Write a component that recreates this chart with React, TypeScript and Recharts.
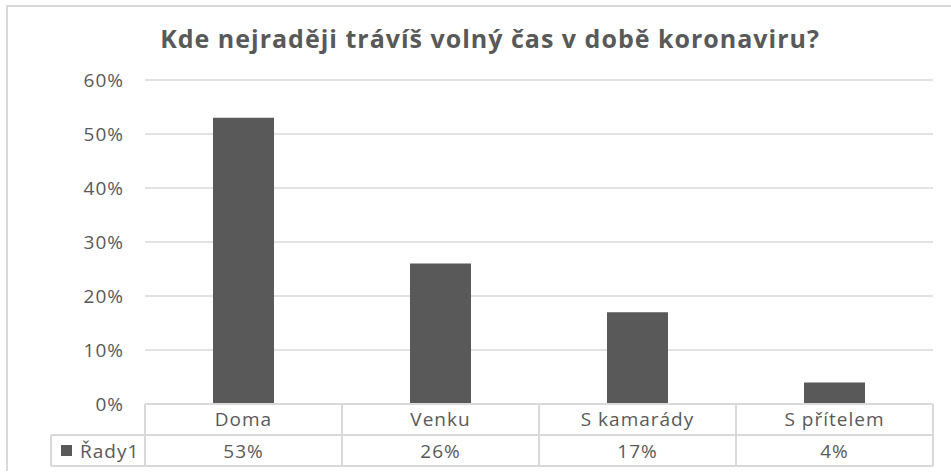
import React from 'react';
import { BarChart, Bar, XAxis, YAxis, CartesianGrid } from 'recharts';

const categories = ['Doma', 'Venku', 'S kamarády', 'S přítelem'];
const values = [53, 26, 17, 4];
const valueLabels = ['53%', '26%', '17%', '4%'];
const yTicks = [0, 10, 20, 30, 40, 50, 60];
const seriesName = 'Řady1';
const title = 'Kde nejraději trávíš volný čas v době koronaviru?';

const W = 951;
const H = 474;
const PLOT_LEFT = 145;
const PLOT_RIGHT = 18;
const CELL_W = (W - PLOT_LEFT - PLOT_RIGHT) / categories.length;
const ROW_H = 31;
const LEGEND_W = 94;

const TEXT = '#595959';
const LINE = '#d9d9d9';
const FONT = '"Open Sans", sans-serif';
const FS = 19;
const LS = 1;

const data = categories.map((name, i) => ({ name, value: values[i], label: valueLabels[i] }));

// table cell under each category, legend cell drawn with the first one
const TableTick = (props: any) => {
  const { x, y, payload, index } = props;
  const left = x - CELL_W / 2;
  const right = x + CELL_W / 2;
  return (
    <g>
      <line x1={left} y1={y} x2={right} y2={y} stroke={LINE} strokeWidth={2} />
      <line x1={left} y1={y + ROW_H} x2={right} y2={y + ROW_H} stroke={LINE} strokeWidth={2} />
      <line x1={left} y1={y + ROW_H * 2} x2={right} y2={y + ROW_H * 2} stroke={LINE} strokeWidth={2} />
      <line x1={left} y1={y} x2={left} y2={y + ROW_H * 2} stroke={LINE} strokeWidth={2} />
      <line x1={right} y1={y} x2={right} y2={y + ROW_H * 2} stroke={LINE} strokeWidth={2} />
      <text x={x} y={y + 22} textAnchor="middle" fill={TEXT} fontSize={FS} letterSpacing={LS} fontFamily={FONT}>
        {payload.value}
      </text>
      <text x={x} y={y + ROW_H + 23} textAnchor="middle" fill={TEXT} fontSize={FS} letterSpacing={LS} fontFamily={FONT}>
        {data[index].label}
      </text>
      {index === 0 && (
        <g>
          <line x1={left - LEGEND_W} y1={y + ROW_H} x2={left} y2={y + ROW_H} stroke={LINE} strokeWidth={2} />
          <line x1={left - LEGEND_W} y1={y + ROW_H * 2} x2={left} y2={y + ROW_H * 2} stroke={LINE} strokeWidth={2} />
          <line x1={left - LEGEND_W} y1={y + ROW_H} x2={left - LEGEND_W} y2={y + ROW_H * 2} stroke={LINE} strokeWidth={2} />
          <rect x={left - LEGEND_W + 10} y={y + ROW_H + 10} width={11} height={11} fill="#595959" />
          <text x={left - LEGEND_W + 29} y={y + ROW_H + 23} fill={TEXT} fontSize={FS} letterSpacing={LS} fontFamily={FONT}>
            {seriesName}
          </text>
        </g>
      )}
    </g>
  );
};

export default function App() {
  return (
    <div style={{ position: 'absolute', left: 0, top: 0, width: W, height: H, background: '#fff' }}>
      <div
        style={{
          position: 'absolute',
          left: 6,
          top: 5,
          width: W - 6,
          height: 466,
          borderTop: `2px solid ${LINE}`,
          borderLeft: `2px solid ${LINE}`,
          boxSizing: 'border-box',
        }}
      />
      <div
        style={{
          position: 'absolute',
          left: 0,
          top: 21,
          width: 980,
          textAlign: 'center',
          fontFamily: FONT,
          fontWeight: 700,
          fontSize: 25,
          letterSpacing: 1,
          color: TEXT,
        }}
      >
        {title}
      </div>
      <div style={{ position: 'absolute', left: 0, top: 0 }}>
        <BarChart width={W} height={H} data={data} margin={{ top: 80, right: PLOT_RIGHT, bottom: 0, left: 0 }}>
          <CartesianGrid vertical={false} stroke={LINE} strokeWidth={1.5} />
          <XAxis
            dataKey="name"
            axisLine={false}
            tickLine={false}
            tickSize={0}
            tickMargin={0}
            interval={0}
            height={70}
            tick={<TableTick />}
          />
          <YAxis
            width={PLOT_LEFT}
            domain={[0, 60]}
            ticks={yTicks}
            tickFormatter={(v: number) => `${v}%`}
            axisLine={false}
            tickLine={false}
            tickSize={0}
            tickMargin={21}
            tick={{ fill: TEXT, fontSize: FS, fontFamily: FONT, letterSpacing: LS }}
          />
          <Bar dataKey="value" fill="#595959" barSize={61} isAnimationActive={false} />
        </BarChart>
      </div>
    </div>
  );
}
